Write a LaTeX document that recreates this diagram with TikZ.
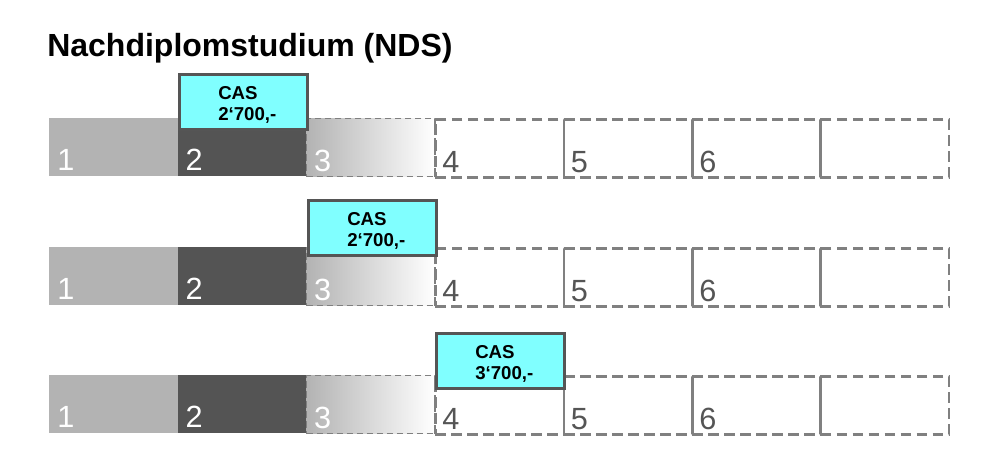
\documentclass[tikz,border=0pt]{standalone}
\usepackage{fontspec}
\setmainfont{Liberation Sans}
\definecolor{lightcell}{HTML}{B3B3B3}
\definecolor{darkcell}{HTML}{545454}
\definecolor{dashgray}{HTML}{808080}
\definecolor{casfill}{HTML}{80FFFF}
\definecolor{casline}{HTML}{555555}
\definecolor{numgray}{HTML}{555555}
\begin{document}
\begin{tikzpicture}[x=0.75pt,y=-0.75pt,
  cell/.style={rectangle,inner sep=0pt,anchor=north west,minimum width=96.3pt,minimum height=43.5pt},
  donecell/.style={cell,fill=lightcell},
  curcell/.style={cell,fill=darkcell},
  nextcell/.style={cell,left color=lightcell,right color=white,draw=dashgray,line width=1.1pt,dash pattern=on 5pt off 2.5pt},
  opencell/.style={cell,draw=dashgray,line width=1.9pt,dash pattern=on 8pt off 4pt},
  num/.style={anchor=base west,inner sep=0pt,font=\fontsize{23}{26}\selectfont},
  casbox/.style={rectangle,inner sep=0pt,anchor=north west,minimum width=96pt,minimum height=41.25pt,fill=casfill,draw=casline,line width=2.2pt},
  castext/.style={anchor=north west,inner sep=0pt,align=left,font=\fontsize{14}{16}\selectfont\bfseries}
]
\useasboundingbox (0,0) rectangle (1000,465);

\node[anchor=base west,inner sep=0pt,font=\fontsize{24}{28}\selectfont\bfseries] (title) at (47,56) {Nachdiplomstudium (NDS)};

\foreach \r/\top in {1/118,2/247,3/375}{
  \node[donecell] (c-\r-1) at (49,\top) {};
  \node[curcell]  (c-\r-2) at (177.4,\top) {};
  \node[nextcell] (c-\r-3) at (305.8,\top) {};
  \node[opencell] (c-\r-4) at (434.2,\top) {};
  \node[opencell] (c-\r-5) at (562.6,\top) {};
  \node[opencell] (c-\r-6) at (691,\top) {};
  \node[opencell] (c-\r-7) at (819.4,\top) {};
  \node[num,text=white]   (n-\r-1) at ([shift={(8,-6)}]c-\r-1.south west) {1};
  \node[num,text=white]   (n-\r-2) at ([shift={(8,-6)}]c-\r-2.south west) {2};
  \node[num,text=white]   (n-\r-3) at ([shift={(8,-6)}]c-\r-3.south west) {3};
  \node[num,text=numgray] (n-\r-4) at ([shift={(8,-6)}]c-\r-4.south west) {4};
  \node[num,text=numgray] (n-\r-5) at ([shift={(8,-6)}]c-\r-5.south west) {5};
  \node[num,text=numgray] (n-\r-6) at ([shift={(8,-6)}]c-\r-6.south west) {6};
}

\node[casbox] (cas-1) at (178,73) {};
\node[castext] (t-1) at ([shift={(40,13)}]cas-1.north west) {CAS\\2‘700,-};
\node[casbox] (cas-2) at (307,199) {};
\node[castext] (t-2) at ([shift={(40,13)}]cas-2.north west) {CAS\\2‘700,-};
\node[casbox] (cas-3) at (435,332) {};
\node[castext] (t-3) at ([shift={(40,13)}]cas-3.north west) {CAS\\3‘700,-};
\end{tikzpicture}
\end{document}
